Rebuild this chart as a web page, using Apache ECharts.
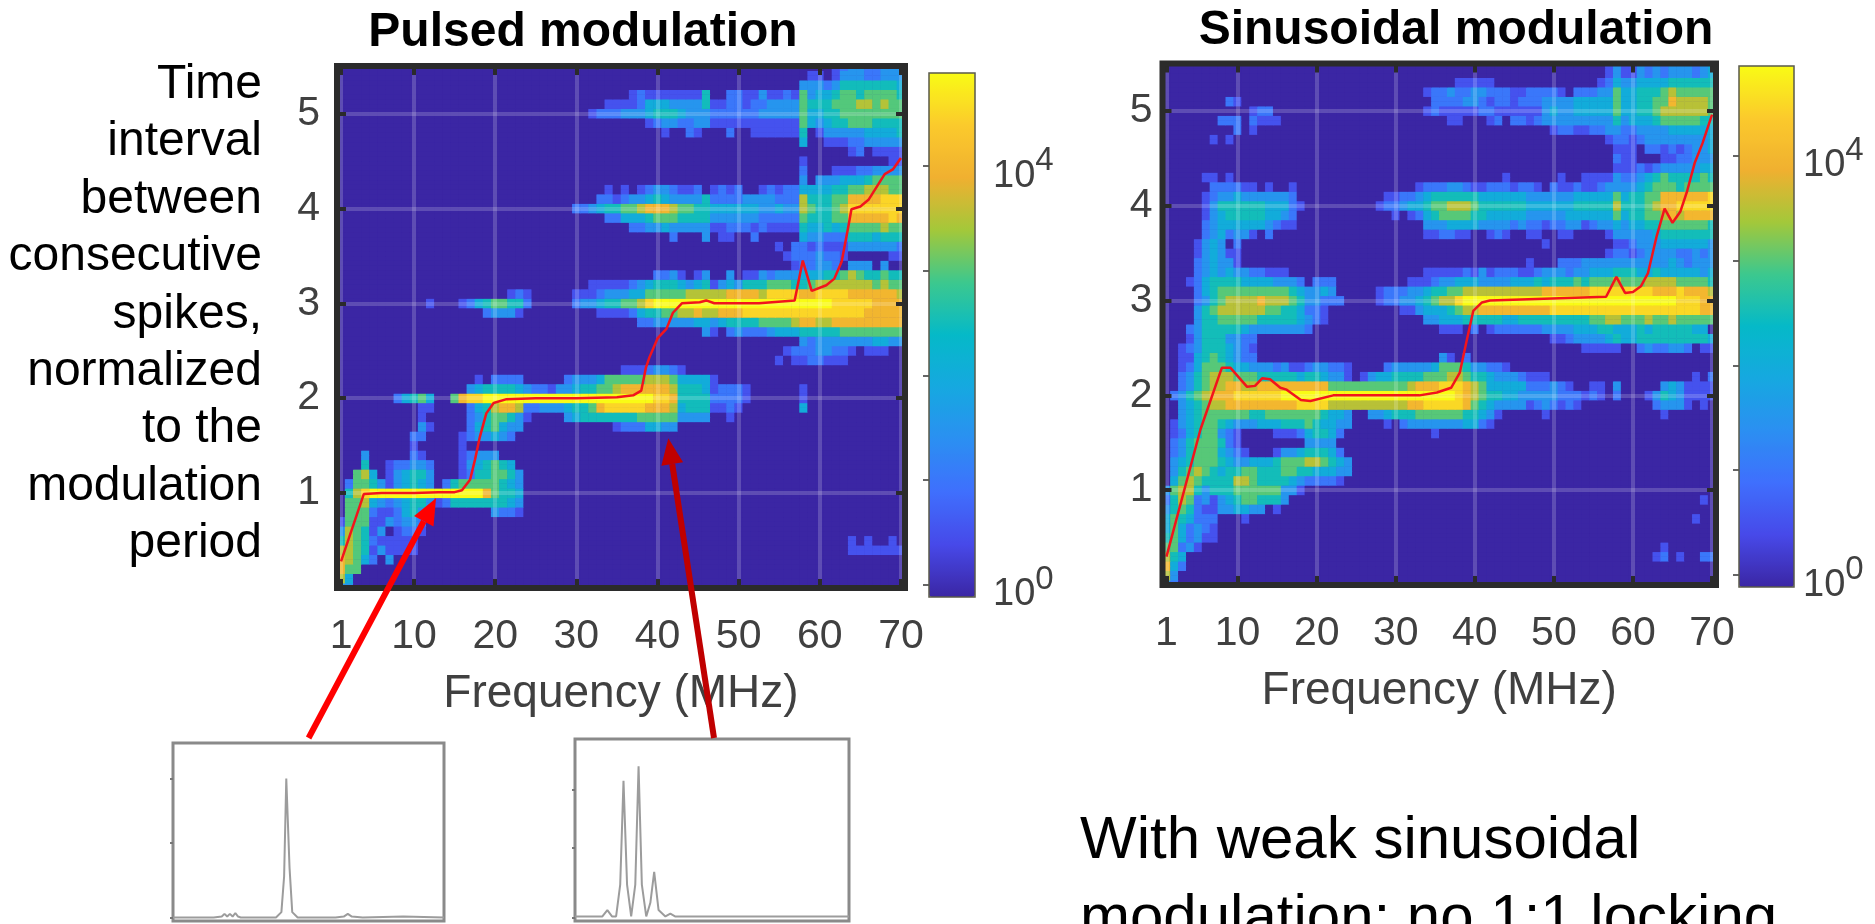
<!DOCTYPE html>
<html>
<head>
<meta charset="utf-8">
<style>html,body{margin:0;padding:0;background:#fff;overflow:hidden}#c{width:1875px;height:924px}</style>
<script src="https://cdn.jsdelivr.net/npm/echarts@6/dist/echarts.min.js"></script>
</head>
<body>
<div id="c"></div>
<script>
// Each row lists "column:levels" runs; level n means log10(count) = n/2, A = 10. Rows run y = 5.5 down to 0.0.
const pulsedRows = [
"61:0123322333",
"59:110133322333",
"58:3332355555554",
"37:"+"1211111115"+"0022113112"+"1634456656"+"6665",
"34:"+"1111244433"+"3351122122"+"3333655566"+"6776766",
"32:"+"1222333455"+"5433322222"+"2333336445"+"566666666",
"39:"+"1233223311"+"1111111116"+"4345566655"+"55",
"41:1 44:21 49:2 52:111111 58:5 60:13333344445",
"58:4 61:1112233333",
"64:12 67:1111",
"58:1 69:11",
"58:2 62:111223333",
"58:3 60:33344456666",
"34:1 36:1 38:12332112 47:1212 53:121224444556677766",
"33:"+"2212334543"+"3335222233"+"3322275556"+"68888999",
"30:"+"2234556678"+"8876655444"+"4443343376"+"55679999999",
"34:"+"2244456665"+"5553333332"+"2222655566"+"8888898",
"37:"+"2233433333"+"1122212111"+"1544545666"+"6766",
"42:2 46:3 48:11 52:2 58:4332225554555",
"55:1 57:22121113333332",
"56:12223221 69:11",
"57:122332 64:333 68:3",
"40:2231 45:13 49:3 51:"+"1132333444"+"5567655655",
"32:11 34:"+"1112345554"+"3451343555"+"6665567777"+"7776766",
"22:121 30:"+"1112333446"+"6666777778"+"8887999988"+"99998888887",
"12:1 16:124566552 30:"+"2334556679"+"AAAAAAAAAAAAAAAAAAAAAA"+"99999888"+"8",
"19:23331 33:1111245"+"5667787788"+"8"+"999999999999999"+"88888",
"38:"+"2233333443"+"4555566667"+"8877"+"888888888",
"46:31 49:"+"2322234445"+"5555"+"66666666",
"58:3233333334433",
"56:122233221 66:111",
"55:1 57:1122111",
"36:11123321",
"18:1 20:2222 29:"+"2333466666"+"777644441",
"17:"+"3455554322"+"1334556678"+"8888875554"+"12221 58:1",
"8:24564 15:6899"+"AAAAAAAAAAAAAAAAAAAAA"+"998"+"5555"+"2222"+"1 58:1",
"11:11 17:"+"2457887223"+"3345568999"+"9988874555"+"1121 58:4",
"11:1 17:23566531 29:345555555"+"66666"+"3333 49:1",
"11:31 17:2456433 35:12224433",
"10:22 16:1233432",
"10:1 16:1",
"4:3 10:21 16:12333",
"4:5 7:122332 16:1345654",
"3:674 7:134553 16:12556653",
"2:26653134543 14:2566666543",
"2:579AAAAAAAAAAAAAA86554",
"2:6674323455312"+"5555555"+"43",
"2:66621124532 20:3221",
"1:16661132332",
"1:37651301221",
"1:5765211111 64:1 66:1 69:1",
"1:7765131111 64:1111111",
"1:87642 7:3",
"1:866",
"1:74",
"1:33"
];
const sineRows = [
"57:13113232333234",
"57:13113232333234",
"38:11111 56:124334444555555",
"34:"+"1223223322"+"2112222102"+"2233644555"+"6766666",
"9:21 35:"+"2222332122"+"1222333344"+"4446445566"+"877776",
"12:122 34:"+"1211111221"+"1111134334"+"4444644556"+"7777776",
"8:222 12:2111 37:11 42:12 45:"+"2212333333"+"3335344456"+"666655",
"10:2 12:1 50:122112233223333444444",
"7:1 9:1 57:12212333333334",
"58:111 62:221212334",
"58:211 64:1122333",
"58:1112123333344",
"6:11 9:1 44:1 51:1 54:11113223456555565",
"7:222211 14:1 17:1 33:"+"1222332112"+"2212210211"+"2112333345"+"66656666",
"6:123343333332 29:"+"1122345555"+"5544444433"+"3333444446"+"455668888889",
"6:1355555544421 28:"+"1223445667"+"7765555554"+"4444455555"+"7555678899999",
"6:134555554432 30:1 32:"+"1245666655"+"4444433333"+"4444446455"+"667878888",
"6:234444443211 34:"+"3334444333"+"3232212233"+"1233434455"+"6666665",
"6:2342331 14:2 34:112211 42:121 47:11 51:11 57:133333"+"4"+"5555555",
"5:1343 10:2 49:1 58:1123334444443",
"5:134311 57:12212333322323",
"5:234331 47:1 51:222"+"33333333333"+"432333",
"5:234343322111 34:"+"1111121312"+"2211233323"+"3444555445"+"4444434",
"4:124555544443332 20:222 32:"+"1112334443"+"3334445455"+"5656667666"+"777766665",
"5:245"+"666666666"+"543343 28:"+"1222334556"+"67777777777"+"888888"+"99999999"+"88898887",
"5:2356777787776533222 28:12233456779"+"AAAAAAAAAAAAAAAAAAAAAAAAAAA"+"99988",
"5:35677777766554221 31:1134445677"+"888888888"+"9999999999999999999"+"88",
"5:35566666555554321 34:33444"+"55555"+"44"+"555555555"+"6677666766766666",
"4:2355555"+"4"+"3333333"+"2 36:111 40:2 42:1222222"+"3333"+"444"+"55"+"444"+"5"+"4"+"55555"+"44",
"4:135553322 50:1123333"+"4544"+"555555555"+"4",
"3:1235554321 54:11111 61:2322332 69:11",
"3:1145654322 36:31 39:2",
"3:1246665443332311233221 29:2333334666"+"533221",
"3:2356777666555554554331 26:1344555566"+"67765543332111 68:1 70:2",
"3:2356778877"+"888888888"+"6666666666"+"7888999876"+"44444"+"222321 55:11 58:3 64:3431111",
"2:23567888"+"999999"+"AAAAAAAAAAAAAAAAAAAAAA"+"9876554433333222121 58:2 62:135431111",
"3:345677"+"888888888"+"9999"+"7777777777"+"88"+"99999"+"86543333"+"1232121 63:23331 69:1",
"3:345666666"+"55"+"6666666"+"5443 27:334555"+"666666"+"55431 49:1 64:1",
"2:13456654333444555654433 29:1 31:2"+"3333333"+"4421",
"2:124566321 15:111245542 35:1",
"2:235666521 19:3333",
"2:2356664321 15:133455542",
"2:34566654334445666776543",
"2:35676545566555665544433",
"2:4676555577655554322221",
"1:367753555666666331",
"1:2576231345665553 69:1",
"1:3565211334433 15:1",
"1:4654222 11:1 68:1",
"1:4642321",
"1:5642311",
"1:66231 64:1",
"1:754 63:12 66:1 69:22",
"1:842",
"1:73",
"1:32"
];

const pulsedFreq = [1,3.8,6,10,13,15,15.9,16.9,17.5,18.1,18.9,19.8,21.4,25,30,35,37,38,38.6,39,40,41.1,41.9,43,45.2,46,47,52.5,56.9,57.9,59,60.8,61.8,62.7,63.5,63.9,65,66,68,69,70];
const pulsedPeak = [.28,.99,1,1,1.01,1.01,1.03,1.14,1.35,1.59,1.84,1.95,1.99,2,2,2.01,2.03,2.08,2.33,2.43,2.63,2.73,2.9,3,3.01,3.03,3,3,3.03,3.45,3.13,3.19,3.26,3.44,3.8,3.99,4.02,4.09,4.36,4.41,4.53];
const sineFreq = [1,5.3,8,9.1,11.2,12.2,13.1,14.1,15.4,16.2,18,19.2,22.1,33,35.2,37,38.1,39,39.8,40.9,41.9,56.6,57.9,59,60,61,61.9,63,64,65,66,66.8,67.8,68.8,70];
const sinePeak = [.3,1.64,2.29,2.29,2.09,2.1,2.18,2.17,2.08,2.06,1.95,1.94,2,2,2.03,2.08,2.24,2.59,2.89,2.98,3,3.04,3.25,3.08,3.09,3.15,3.29,3.68,3.97,3.82,3.94,4.14,4.45,4.66,4.96];

const insetAX = [0,15,18,19,20,21,22,23,24,25,27,38,40,41,41.8,42.4,43,44,46,60,63,64.5,66,70,85,100];
const insetAY = [.02,.02,.025,.04,.025,.04,.025,.045,.025,.02,.02,.02,.05,.25,.8,.8,.3,.05,.02,.02,.025,.04,.025,.02,.025,.02];
const insetBX = [0,10,11.8,13.5,15,16.5,17.7,19,20.5,22,23.2,24.4,26,27.5,28.9,30.5,33,34.8,36.5,50,100];
const insetBY = [.025,.025,.06,.025,.025,.2,.77,.2,.025,.2,.85,.2,.025,.1,.27,.06,.025,.04,.025,.025,.025];

const xTicks = [1,10,20,30,40,50,60,70];
const yTicks = [1,2,3,4,5];
const barTicks = [0,1,2,3,4];
const barLabels = [0,4];
const parula = ['#3b26a4','#4749e9','#3f6ffd','#2b8ff2','#16a8e0','#05b9c8','#3cc88e','#a3c83a','#f0b030','#fbca2c','#f9fb15'];

function parseRows(rows,floor){
  const out=[];
  const nBands=110;
  const table=rows.map(s=>{
    const r=new Array(70).fill(floor);
    s.trim().split(/\s+/).forEach(t=>{
      const p=t.split(':'),c=+p[0];
      [...p[1]].forEach((ch,i)=>{ if(c-1+i<70 && ch!=='0') r[c-1+i]=(ch==='A'?10:+ch)/2; });
    });
    return r;
  });
  for(let b=0;b<nBands;b++){
    const k=Math.floor((b+1)/2);          // row centred on y = k*0.1
    const row=table[55-k];
    for(let c=0;c<70;c++) out.push([c,b,row[c]]);
  }
  return out;
}
const xCats=Array.from({length:70},(_,i)=>String(i+1));
const yBands=Array.from({length:110},(_,i)=>String(i));

const FONT='"Liberation Sans", Arial, sans-serif';
const INK='#404040', FRAME='#2b2b2b';
const grid=[],xAxis=[],yAxis=[];

function panel(left,top,w,h,yMargin,xMargin){
  const g=grid.length;
  grid.push({left,top,width:w,height:h,z:7,show:true,borderColor:FRAME,borderWidth:6,backgroundColor:'transparent'});
  const cx=xAxis.length, cy=yAxis.length;
  xAxis.push({type:'category',gridIndex:g,data:xCats,show:false});
  yAxis.push({type:'category',gridIndex:g,data:yBands,show:false});
  const tick={show:true,inside:true,length:9,lineStyle:{color:FRAME,width:4}};
  const split=v=>({show:true,customValues:v,lineStyle:{color:'rgba(255,255,255,0.18)',width:4}});
  xAxis.push({type:'value',gridIndex:g,position:'bottom',min:0.5,max:70.5,z:5,axisLine:{show:false},
    axisTick:Object.assign({customValues:xTicks},tick),splitLine:split(xTicks),
    axisLabel:{customValues:xTicks,margin:xMargin,fontSize:41,color:INK,fontFamily:FONT,showMinLabel:true,showMaxLabel:true},
    name:'Frequency (MHz)',nameLocation:'middle',nameGap:83,nameTextStyle:{fontSize:46,color:INK,fontFamily:FONT}});
  xAxis.push({type:'value',gridIndex:g,position:'top',min:0.5,max:70.5,z:5,axisLine:{show:false},
    axisTick:Object.assign({customValues:xTicks},tick),splitLine:{show:false},axisLabel:{show:false}});
  yAxis.push({type:'value',gridIndex:g,position:'left',min:0,max:5.5,z:5,axisLine:{show:false},
    axisTick:Object.assign({customValues:yTicks},tick),splitLine:split(yTicks),
    axisLabel:{customValues:yTicks,margin:yMargin,fontSize:41,color:INK,fontFamily:FONT}});
  yAxis.push({type:'value',gridIndex:g,position:'right',min:0,max:5.5,z:5,axisLine:{show:false},
    axisTick:Object.assign({customValues:yTicks},tick),splitLine:{show:false},axisLabel:{show:false}});
  return {cx,cy,vx:cx+1,vy:cy+1};
}
function colorbar(left,top,w,h,min,max,margin){
  const g=grid.length;
  grid.push({left,top,width:w,height:h,z:7,show:true,borderColor:'#5a5a4a',borderWidth:1.5,backgroundColor:'transparent'});
  xAxis.push({type:'value',gridIndex:g,show:false,min:0,max:1});
  yAxis.push({type:'value',gridIndex:g,position:'right',min,max,z:6,axisLine:{show:false},splitLine:{show:false},
    axisTick:{show:true,inside:true,length:6,customValues:barTicks,lineStyle:{color:'#333',width:1.5}},
    axisLabel:{customValues:barLabels,margin,padding:[20,0,0,0],formatter:v=>'{b|10}{s|'+v+'}',
      rich:{b:{fontSize:38,color:INK,fontFamily:FONT,lineHeight:46},
            s:{fontSize:33,color:INK,fontFamily:FONT,lineHeight:46,padding:[0,0,30,0]}}}});
}
function inset(left,top,w,h,ticks){
  const g=grid.length;
  grid.push({left,top,width:w,height:h,show:true,borderColor:'#8a8a8a',borderWidth:3,backgroundColor:'transparent'});
  const ix=xAxis.length, iy=yAxis.length;
  xAxis.push({type:'value',gridIndex:g,min:0,max:100,axisLine:{show:false},axisTick:{show:false},axisLabel:{show:false},splitLine:{show:false}});
  yAxis.push({type:'value',gridIndex:g,min:0,max:1,axisLine:{show:false},splitLine:{show:false},axisLabel:{show:false},
    axisTick:{show:true,inside:false,length:3,customValues:ticks,lineStyle:{color:'#777',width:2}}});
  return {ix,iy};
}

const P=panel(337,66,568,522,17,28);
const S=panel(1162.5,63.5,553.5,521.5,10,28);
colorbar(929,73,46,524,-0.12,4.89,18);
colorbar(1739,66,55,521,-0.114,4.855,9);
const IA=inset(173,743,271,178,[.02,.44,.8]);
const IB=inset(575,739,274,182,[.02,.4,.72]);

function zip(a,b){return a.map((v,i)=>[v,b[i]]);}
const redLine=(ax,data)=>({type:'line',xAxisIndex:ax.vx,yAxisIndex:ax.vy,data,symbol:'none',z:6,silent:true,clip:false,
  lineStyle:{color:'#f2141c',width:2.5},animation:false});
const spec=(a,data)=>({type:'line',xAxisIndex:a.ix,yAxisIndex:a.iy,data,symbol:'none',silent:true,
  lineStyle:{color:'#9c9c9c',width:2},animation:false});
const heat=(ax,rows,floor)=>({type:'heatmap',xAxisIndex:ax.cx,yAxisIndex:ax.cy,data:parseRows(rows,floor),z:2,silent:true,
  progressive:0,animation:false,itemStyle:{borderWidth:0},emphasis:{disabled:true}});

function arrow(x0,y0,x1,y1,color,width,hl,hw){
  const L=Math.hypot(x1-x0,y1-y0),ux=(x1-x0)/L,uy=(y1-y0)/L,bx=x1-ux*hl,by=y1-uy*hl;
  return [
    {type:'line',z:20,shape:{x1:x0,y1:y0,x2:bx,y2:by},style:{stroke:color,lineWidth:width}},
    {type:'polygon',z:20,shape:{points:[[x1,y1],[bx-uy*hw,by+ux*hw],[bx+uy*hw,by-ux*hw]]},style:{fill:color}}
  ];
}
const txt=(text,x,y,size,align,lh)=>({type:'text',z:20,x,y,style:{text,fill:'#000',font:size+'px '+FONT,textAlign:align,textVerticalAlign:'top',lineHeight:lh}});
const backdrop=(x,y,width,height)=>({type:'rect',z:-1,shape:{x,y,width,height},style:{fill:parula[0]}});

const chart=echarts.init(document.getElementById('c'),null,{renderer:'canvas'});
chart.setOption({
  animation:false,
  backgroundColor:'#fff',
  title:[
    {text:'Pulsed modulation',left:583,top:9,textAlign:'center',padding:0,textStyle:{fontSize:48,fontWeight:'bold',color:'#000',fontFamily:FONT}},
    {text:'Sinusoidal modulation',left:1456,top:7,textAlign:'center',padding:0,textStyle:{fontSize:48,fontWeight:'bold',color:'#000',fontFamily:FONT}}
  ],
  grid,xAxis,yAxis,
  visualMap:[
    {type:'continuous',seriesIndex:0,min:-0.12,max:4.89,left:929,top:73,itemWidth:46,itemHeight:524,padding:0,calculable:false,hoverLink:false,text:null,inRange:{color:parula},showLabel:false,textStyle:{fontSize:0}},
    {type:'continuous',seriesIndex:1,min:-0.114,max:4.855,left:1739,top:66,itemWidth:55,itemHeight:521,padding:0,calculable:false,hoverLink:false,text:null,inRange:{color:parula},showLabel:false,textStyle:{fontSize:0}}
  ],
  series:[
    heat(P,pulsedRows,-0.12),heat(S,sineRows,-0.114),
    redLine(P,zip(pulsedFreq,pulsedPeak)),redLine(S,zip(sineFreq,sinePeak)),
    spec(IA,zip(insetAX,insetAY)),spec(IB,zip(insetBX,insetBY))
  ],
  graphic:{elements:[
    backdrop(337,66,568,522),backdrop(1162.5,63.5,553.5,521.5),
    txt('Time\ninterval\nbetween\nconsecutive\nspikes,\nnormalized\nto the\nmodulation\nperiod',262,56,48,'right',57.4),
    txt('With weak sinusoidal\nmodulation; no 1:1 locking',1080,802,60,'left',78),
    ...arrow(308.6,738,436,498.3,'#ff0000',6,26,11),
    ...arrow(714,738,668.3,438.3,'#c00000',6,26,11)
  ]}
});
</script>
</body>
</html>
